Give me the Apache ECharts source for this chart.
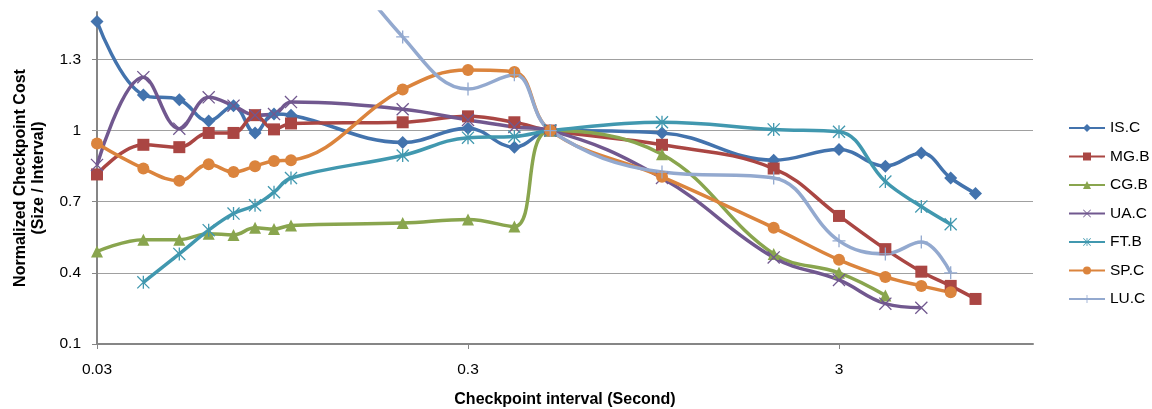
<!DOCTYPE html>
<html>
<head>
<meta charset="utf-8">
<script src="https://cdn.jsdelivr.net/npm/echarts@6/dist/echarts.min.js"></script>
<style>
  html, body { margin: 0; padding: 0; background: #ffffff; }
  #chart { width: 1152px; height: 409px; }
</style>
</head>
<body>
<div id="chart"></div>
<script>
// Checkpoint intervals (seconds), shared by every series
const intervals = [0.03, 0.04, 0.05, 0.06, 0.07, 0.08, 0.09, 0.1, 0.2, 0.3, 0.4, 0.5, 1, 2, 3, 4, 5, 6, 7];

// Normalized checkpoint cost per benchmark (null = not measured)
const isC = [1.46, 1.15, 1.13, 1.04, 1.105, 0.99, 1.07, 1.065, 0.95, 1.01, 0.93, 1.0, 0.99, 0.875, 0.92, 0.85, 0.905, 0.80, 0.735];
const mgB = [0.815, 0.94, 0.93, 0.99, 0.99, 1.065, 1.005, 1.03, 1.035, 1.06, 1.035, 1.0, 0.94, 0.84, 0.64, 0.50, 0.405, 0.345, 0.29];
const cgB = [0.49, 0.54, 0.54, 0.565, 0.56, 0.59, 0.585, 0.60, 0.61, 0.625, 0.595, 1.0, 0.90, 0.48, 0.40, 0.305, null, null, null];
const uaC = [0.855, 1.225, 1.008, 1.14, 1.105, 1.065, 1.07, 1.12, 1.09, 1.045, 1.015, 1.0, 0.80, 0.465, 0.37, 0.27, 0.253, null, null];
const ftB = [null, 0.36, 0.48, 0.58, 0.65, 0.685, 0.74, 0.80, 0.895, 0.97, 0.975, 1.0, 1.035, 1.005, 0.995, 0.785, 0.68, 0.605, null];
const spC = [0.945, 0.84, 0.788, 0.858, 0.825, 0.85, 0.872, 0.875, 1.173, 1.255, 1.247, 1.0, 0.805, 0.59, 0.455, 0.383, 0.345, 0.318, null];
const luC = [null, null, null, null, null, null, null, 2.0, 1.395, 1.175, 1.235, 1.0, 0.825, 0.80, 0.535, 0.48, 0.53, 0.40, null];

const seriesNames = ['IS.C', 'MG.B', 'CG.B', 'UA.C', 'FT.B', 'SP.C', 'LU.C'];
const seriesValues = [isC, mgB, cgB, uaC, ftB, spC, luC];

// Axis ticks
const xTickValues = [0.03, 0.3, 3];
const yTickLabels = ['0.1', '0.4', '0.7', '1', '1.3'];

// Marker glyphs
const X_PATH = 'path://M0,1.4L1.4,0L20,18.6L18.6,20Z M18.6,0L20,1.4L1.4,20L0,18.6Z';
const PLUS_PATH = 'path://M9,0H11V20H9Z M0,9H20V11H0Z';
const STAR_PATH = 'path://M0,1.4L1.4,0L20,18.6L18.6,20Z M18.6,0L20,1.4L1.4,20L0,18.6Z M9,0H11V20H9Z';

const styles = [
  { color: '#4373ad', symbol: 'diamond', size: 13 },
  { color: '#aa4643', symbol: 'rect', size: 12 },
  { color: '#89a54e', symbol: 'triangle', size: 12 },
  { color: '#71588f', symbol: X_PATH, size: 13 },
  { color: '#4198af', symbol: STAR_PATH, size: 13 },
  { color: '#db843d', symbol: 'circle', size: 12 },
  { color: '#93a9cf', symbol: PLUS_PATH, size: 13 }
];

const FONT = '"Liberation Sans", Arial, sans-serif';

const series = seriesNames.map((name, i) => ({
  name: name,
  type: 'line',
  smooth: 0.4,
  connectNulls: true,
  clip: true,
  symbol: styles[i].symbol,
  symbolSize: styles[i].size,
  showAllSymbol: true,
  color: styles[i].color,
  lineStyle: { width: 3.5, color: styles[i].color },
  itemStyle: { color: styles[i].color },
  emphasis: { disabled: true },
  data: intervals.map((x, k) => [x, seriesValues[i][k]])
    .filter(p => p[1] !== null)
}));

const chart = echarts.init(document.getElementById('chart'), null, { renderer: 'canvas' });
chart.setOption({
  animation: false,
  backgroundColor: '#ffffff',
  textStyle: { fontFamily: FONT },
  grid: { left: 97, right: 119, top: 12, bottom: 65, containLabel: false, outerBoundsMode: 'none' },
  xAxis: {
    type: 'log',
    logBase: 10,
    min: 0.03,
    max: 10,
    name: 'Checkpoint interval (Second)',
    nameLocation: 'middle',
    nameGap: 48,
    nameTextStyle: { fontFamily: FONT, fontSize: 16, fontWeight: 'bold', color: '#000' },
    axisLine: { show: true, lineStyle: { color: '#868686', width: 2 } },
    axisTick: { show: true, length: 5, inside: false, customValues: xTickValues, lineStyle: { color: '#868686', width: 1 } },
    axisLabel: {
      customValues: xTickValues,
      margin: 18,
      fontFamily: FONT, fontSize: 15.5, color: '#000',
      formatter: v => String(parseFloat(Number(v).toPrecision(6)))
    },
    splitLine: { show: false },
    minorTick: { show: false }
  },
  yAxis: {
    type: 'value',
    min: 0.1,
    max: 1.5,
    interval: 0.3,
    name: 'Normalized Checkpoint Cost\n(Size / Interval)',
    nameLocation: 'middle',
    nameRotate: 90,
    nameGap: 49,
    nameTextStyle: { fontFamily: FONT, fontSize: 16, fontWeight: 'bold', color: '#000', lineHeight: 18 },
    axisLine: { show: true, lineStyle: { color: '#868686', width: 2 } },
    axisTick: { show: true, length: 5, lineStyle: { color: '#868686', width: 1 } },
    axisLabel: {
      margin: 16,
      showMaxLabel: false,
      fontFamily: FONT, fontSize: 15.5, color: '#000',
      formatter: v => {
        const s = String(parseFloat(Number(v).toFixed(2)));
        return yTickLabels.indexOf(s) >= 0 ? s : '';
      }
    },
    splitLine: { show: true, showMaxLine: false, lineStyle: { color: '#a0a0a0', width: 1 } }
  },
  legend: {
    orient: 'vertical',
    left: 1068,
    top: 120,
    padding: 0,
    itemWidth: 36,
    itemHeight: 10,
    itemGap: 12.5,
    data: seriesNames,
    textStyle: { fontFamily: FONT, fontSize: 15.5, color: '#000', lineHeight: 16 }
  },
  series: series
});
</script>
</body>
</html>
